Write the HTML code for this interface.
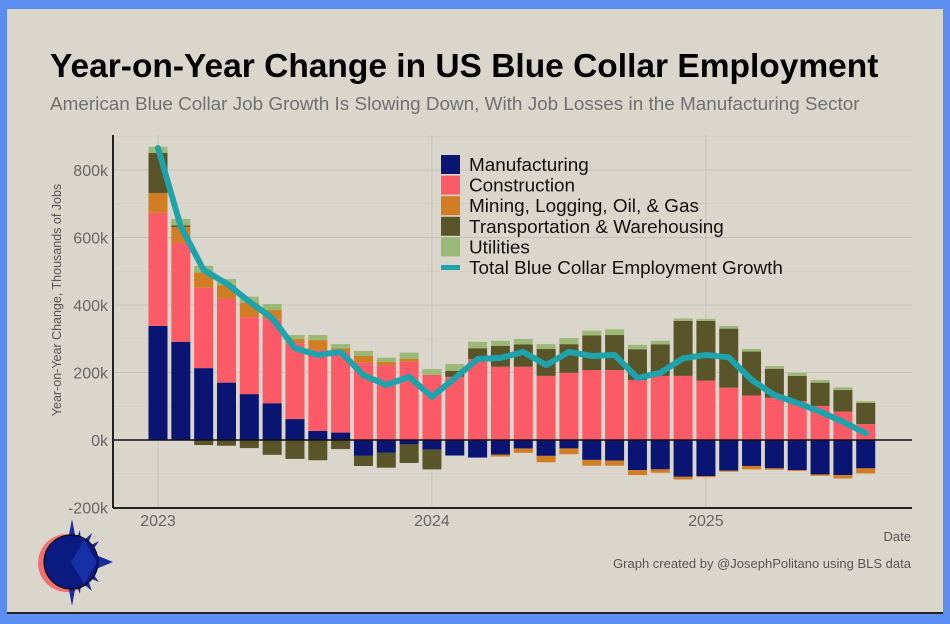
<!DOCTYPE html>
<html><head><meta charset="utf-8">
<style>
html,body{margin:0;padding:0;}
body{width:950px;height:624px;background:#5b8ef0;position:relative;overflow:hidden;font-family:"Liberation Sans",Arial,sans-serif;}
#card{position:absolute;left:7px;top:9px;width:936px;height:603px;background:#dad6cc;border-bottom:2px solid #222;}
svg{position:absolute;left:0;top:0;}
</style></head>
<body>
<div id="card"></div>
<svg id="chart" width="950" height="624">
<text x="50" y="77" font-size="33.5" font-weight="bold" fill="#000" font-family="Liberation Sans">Year-on-Year Change in US Blue Collar Employment</text>
<text x="50" y="110" font-size="18.9" fill="#707070" font-family="Liberation Sans">American Blue Collar Job Growth Is Slowing Down, With Job Losses in the Manufacturing Sector</text>
<text transform="translate(61,300) rotate(-90)" text-anchor="middle" font-size="12.5" fill="#555">Year-on-Year Change, Thousands of Jobs</text>
<text x="911" y="541" text-anchor="end" font-size="13" fill="#555">Date</text>
<text x="911" y="568" text-anchor="end" font-size="13" fill="#555">Graph created by @JosephPolitano using BLS data</text>
<g id="grid"></g><g id="bars"></g><g id="line"></g><g id="axes"></g><g id="legend"></g>
<g>
<circle cx="67" cy="563" r="29" fill="#f07070"/>
<polygon points="72,519 76,540 80,530 81,543 92,533 87,547 99,541 91,553 113,562 91,571 99,582 87,577 92,591 81,582 80,594 76,584 72,606 68,585 68,540" fill="#1a2aa0"/>
<circle cx="71" cy="562" r="27" fill="#0a1a80" stroke="#000" stroke-width="1"/>
<polygon points="71,562 84,540 97,562 84,584" fill="#1630a8"/>
</g>
</svg>
<script>
const months = ["2023-01","2023-02","2023-03","2023-04","2023-05","2023-06","2023-07","2023-08","2023-09","2023-10","2023-11","2023-12","2024-01","2024-02","2024-03","2024-04","2024-05","2024-06","2024-07","2024-08","2024-09","2024-10","2024-11","2024-12","2025-01","2025-02","2025-03","2025-04","2025-05","2025-06","2025-07","2025-08"];
const manufacturing = [338,291,213,170,136,109,62,27,22,-47,-38,-13,-28,-46,-52,-43,-25,-47,-25,-59,-61,-89,-87,-109,-107,-91,-77,-84,-89,-102,-104,-84];
const construction = [335,293,238,248,228,249,225,240,239,229,222,232,193,187,240,217,217,190,199,207,207,178,190,190,176,155,132,125,115,101,84,47];
const mining = [59,47,45,41,43,27,12,29,11,20,9,8,0,0,0,-6,-13,-19,-17,-17,-15,-15,-10,-8,-3,-3,-10,-4,-3,-4,-10,-15];
const transportation = [119,5,-15,-17,-24,-44,-56,-60,-27,-30,-44,-55,-59,18,32,62,66,80,85,103,104,91,93,163,177,175,130,86,75,69,64,63];
const utilities = [18,19,20,18,18,18,12,15,12,15,13,19,17,20,19,15,16,14,18,14,17,13,11,7,6,8,8,8,9,8,8,5];
const totalGrowth = [865,632,504,464,410,361,272,252,261,192,163,187,128,183,240,243,261,222,261,249,252,184,199,242,252,245,178,133,110,84,54,20];
const yTicks = [-200,0,200,400,600,800];
const yTickLabels = ["-200k","0k","200k","400k","600k","800k"];
const xTickLabels = ["2023","2024","2025"];

const NS="http://www.w3.org/2000/svg";
const x0=113,x1=912,yTop=135,yBot=508;
function y(v){return 440-v*(67.5/200);}
function xi(i){return 158+i*22.83;}
function mk(tag,attrs,parent){const e=document.createElementNS(NS,tag);for(const k in attrs)e.setAttribute(k,attrs[k]);document.getElementById(parent).appendChild(e);return e;}
yTicks.forEach((t,i)=>{
  const g=mk('line',{x1:x0,x2:x1,y1:y(t),y2:y(t),stroke:'#c6c2b9','stroke-width':1},'grid');
  
  
  const m=mk('line',{x1:x0,x2:x1,y1:y(t+100),y2:y(t+100),stroke:'#cfcbc2','stroke-width':0.6},'grid');
  
  
  const l=mk('text',{x:108,y:y(t)+6,'text-anchor':'end','font-size':16,fill:'#666'},'axes');
  l.textContent=yTickLabels[i];
  
  
});
xTickLabels.forEach((lab,i)=>{
  const xx=xi(i*12);
  const g=mk('line',{x1:xx,x2:xx,y1:yTop,y2:yBot,stroke:'#c6c2b9','stroke-width':1},'grid');
  
  
  const l=mk('text',{x:xx,y:526,'text-anchor':'middle','font-size':16,fill:'#666'},'axes');
  l.textContent=lab;
  
  
});
const series=[[manufacturing,'#0a1472','manufacturing'],[construction,'#fc5a66','construction'],[mining,'#d17d24','mining'],[transportation,'#5a5429','transportation'],[utilities,'#9ab876','utilities']];
const bw=19;
months.forEach((m,i)=>{
  let pos=0,neg=0;
  series.forEach(([arr,col,nm])=>{
    const v=arr[i]; if(!v) return;
    let a,b;
    if(v>0){a=pos;b=pos+v;pos=b;}else{a=neg;b=neg+v;neg=b;}
    const r=mk('rect',{x:xi(i)-bw/2,y:Math.min(y(a),y(b)),width:bw,height:Math.abs(y(a)-y(b)),fill:col},'bars');
    
    
  });
});
const za=mk('line',{x1:x0,x2:x1,y1:y(0),y2:y(0),stroke:'#111','stroke-width':1.5},'axes');


const ya=mk('line',{x1:x0,x2:x0,y1:yTop,y2:yBot,stroke:'#222','stroke-width':2},'axes');


const xa=mk('line',{x1:x0,x2:x1,y1:yBot,y2:yBot,stroke:'#222','stroke-width':2},'axes');


const pl=mk('polyline',{points:totalGrowth.map((v,i)=>xi(i)+','+y(v)).join(' '),fill:'none',stroke:'#1ea3ac','stroke-width':6,'stroke-linejoin':'round','stroke-linecap':'round'},'line');


const leg=[['Manufacturing','#0a1472','box'],['Construction','#fc5a66','box'],['Mining, Logging, Oil, & Gas','#d17d24','box'],['Transportation & Warehousing','#5a5429','box'],['Utilities','#9ab876','box'],['Total Blue Collar Employment Growth','#1ea3ac','line']];
leg.forEach(([lab,col,t],i)=>{
  const yy=155+i*20.6;
  let s;
  if(t==='box') s=mk('rect',{x:441,y:yy,width:19,height:19,fill:col},'legend');
  else s=mk('rect',{x:441,y:yy+7,width:19,height:5,fill:col},'legend');
  
  
  const tx=mk('text',{x:469,y:yy+16,'font-size':18.9,fill:'#111'},'legend');
  tx.textContent=lab;
  
  
});
</script>
</body></html>
